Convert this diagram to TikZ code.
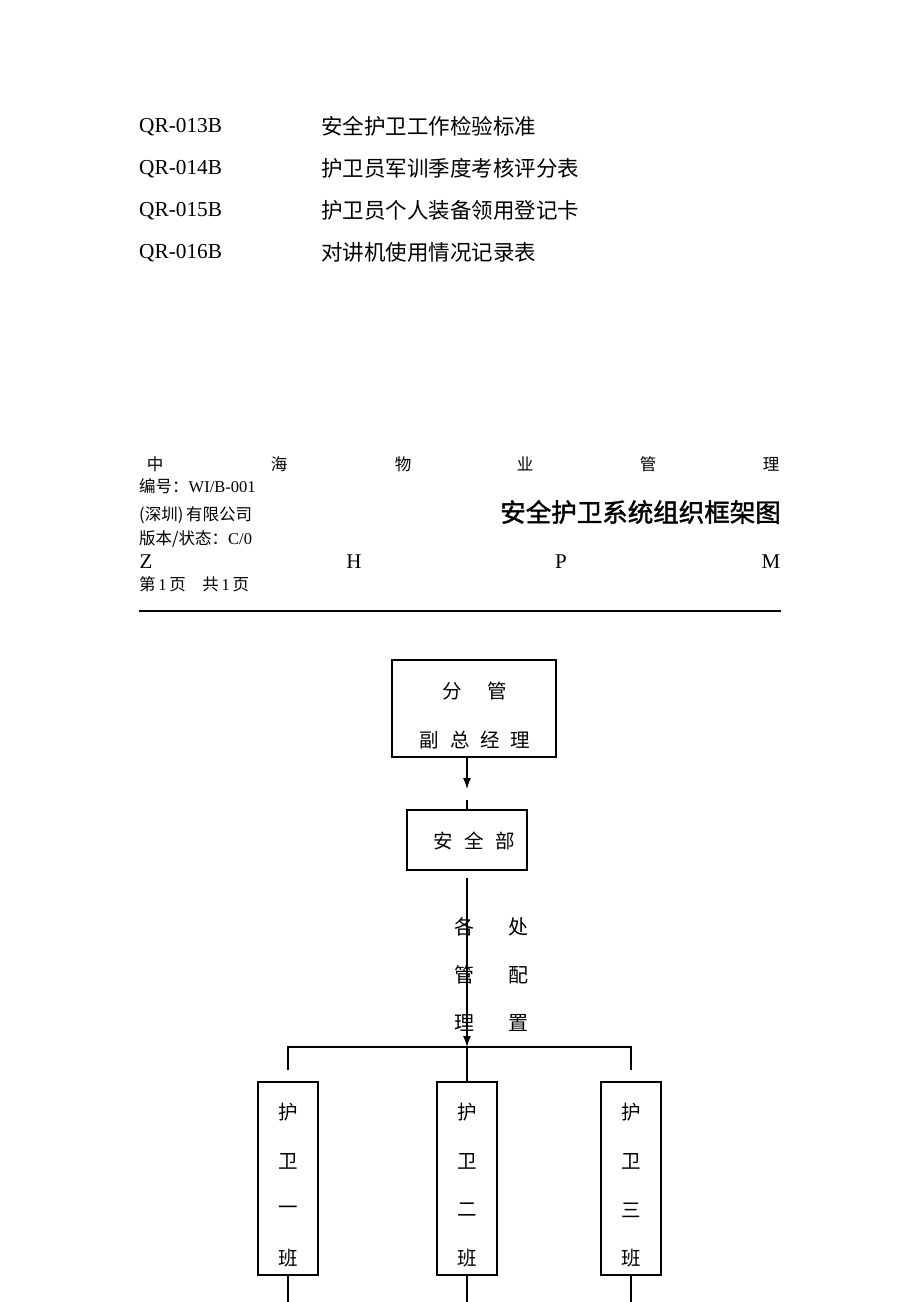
\documentclass[tikz,border=0pt]{standalone}
\usepackage{fontspec}
\setmainfont{Liberation Serif}
\newfontfamily\cjk{Noto Sans CJK SC}
\newfontfamily\cjkb[FakeBold=1.6]{Noto Sans CJK SC}
\usetikzlibrary{arrows.meta}
\begin{document}
\begin{tikzpicture}[x=1pt,y=-1pt,
  txt/.style={inner sep=0pt,font=\cjk\fontsize{21.5}{24}\selectfont},
  lat/.style={inner sep=0pt,font=\fontsize{21.3}{24}\selectfont},
  hd/.style={inner sep=0pt,font=\cjk\fontsize{16.5}{18}\selectfont},
  hdl/.style={inner sep=0pt,font=\fontsize{21}{24}\selectfont},
  box/.style={draw,line width=1.1pt,inner sep=0pt},
  bt/.style={inner sep=0pt,font=\cjk\fontsize{19.5}{22}\selectfont},
  ln/.style={line width=1.1pt},
  arr/.style={line width=1.1pt,-{Latex[length=11pt,width=8pt]}}]
\useasboundingbox (0,0) rectangle (920,1302);
\fill[white] (0,0) rectangle (920,1302);
% list
\node[lat,anchor=west] (q1) at (139,127) {QR-013B};
\node[lat,anchor=west] (q2) at (139,169) {QR-014B};
\node[lat,anchor=west] (q3) at (139,211) {QR-015B};
\node[lat,anchor=west] (q4) at (139,253) {QR-016B};
\node[txt,anchor=west] (t1) at (321,126) {安全护卫工作检验标准};
\node[txt,anchor=west] (t2) at (321,168) {护卫员军训季度考核评分表};
\node[txt,anchor=west] (t3) at (321,210) {护卫员个人装备领用登记卡};
\node[txt,anchor=west] (t4) at (321,252) {对讲机使用情况记录表};
% header
\node[hd] (h1) at (155,464) {中};
\node[hd] (h2) at (279,464) {海};
\node[hd] (h3) at (403,464) {物};
\node[hd] (h4) at (525,464) {业};
\node[hd] (h5) at (648,464) {管};
\node[hd] (h6) at (771,464) {理};
\node[hd,anchor=west] (bh) at (139,486) {编号：\fontspec{Liberation Serif}WI/B-001};
\node[hd,anchor=west] (gs) at (139,515) {(深圳)\,有限公司};
\node[inner sep=0pt,anchor=east,font=\cjkb\fontsize{25.5}{28}\selectfont] (title) at (781,512) {安全护卫系统组织框架图};
\node[hd,anchor=west] (bb) at (139,539) {版本/状态：\fontspec{Liberation Serif}C/0};
\node[hdl] (z) at (146,562) {Z};
\node[hdl] (hh) at (354,562) {H};
\node[hdl] (pp) at (561,562) {P};
\node[hdl] (mm) at (771,562) {M};
\node[hd,anchor=west] (pg) at (139,584) {第\,\fontspec{Liberation Serif}1\,\cjk 页\hspace{1em}共\,\fontspec{Liberation Serif}1\,\cjk 页};
\coordinate (rl) at (139,611);
\coordinate (rr) at (781,611);
\draw[line width=2pt] (rl) -- (rr);
% chart
\node[box,minimum width=164pt,minimum height=97pt] (fg) at (474,708.5) {};
\node[bt] (fg1) at (475,691) {分\hspace{1.3em}管};
\node[bt] (fg2) at (475,740) {副\hspace{0.55em}总\hspace{0.55em}经\hspace{0.55em}理};
\node[box,minimum width=120pt,minimum height=60pt] (aq) at (467,840) {};
\node[bt] (aqt) at (474,841) {安\hspace{0.6em}全\hspace{0.6em}部};
\coordinate (a1) at (467,789);
\coordinate (a2) at (467,800);
\draw[arr] (fg.south -| a1) -- (a1);
\draw[ln] (a2) -- (aq.north);
\coordinate (br) at (467,1047);
\coordinate (bs) at (467,878);
\draw[arr] (bs) -- (br);
\node[inner sep=0pt,font=\cjk\fontsize{20}{22}\selectfont] (g1) at (464,927) {各};
\node[inner sep=0pt,font=\cjk\fontsize{20}{22}\selectfont] (g2) at (464,975) {管};
\node[inner sep=0pt,font=\cjk\fontsize{20}{22}\selectfont] (g3) at (464,1023) {理};
\node[inner sep=0pt,font=\cjk\fontsize{20}{22}\selectfont] (c1) at (518,927) {处};
\node[inner sep=0pt,font=\cjk\fontsize{20}{22}\selectfont] (c2) at (518,975) {配};
\node[inner sep=0pt,font=\cjk\fontsize{20}{22}\selectfont] (c3) at (518,1023) {置};
% boxes
\node[box,minimum width=60pt,minimum height=193pt] (b1) at (288,1178.5) {};
\node[box,minimum width=60pt,minimum height=193pt] (b2) at (467,1178.5) {};
\node[box,minimum width=60pt,minimum height=193pt] (b3) at (631,1178.5) {};
\foreach \n/\x/\c in {b1/288/一,b2/467/二,b3/631/三}{
  \node[bt] (\n-1) at (\x,1112) {护};
  \node[bt] (\n-2) at (\x,1161) {卫};
  \node[bt] (\n-3) at (\x,1210) {\c};
  \node[bt] (\n-4) at (\x,1258) {班};
}
\coordinate (l1) at (288,1047);
\coordinate (r1) at (631,1047);
\coordinate (l2) at (288,1070);
\coordinate (r2) at (631,1070);
\draw[ln] (l2) -- (l1) -- (r1) -- (r2);
\draw[ln] (br) -- (b2.north);
\coordinate (e1) at (288,1302);
\coordinate (e2) at (467,1302);
\coordinate (e3) at (631,1302);
\draw[ln] (b1.south) -- (e1);
\draw[ln] (b2.south) -- (e2);
\draw[ln] (b3.south) -- (e3);
\end{tikzpicture}
\end{document}
